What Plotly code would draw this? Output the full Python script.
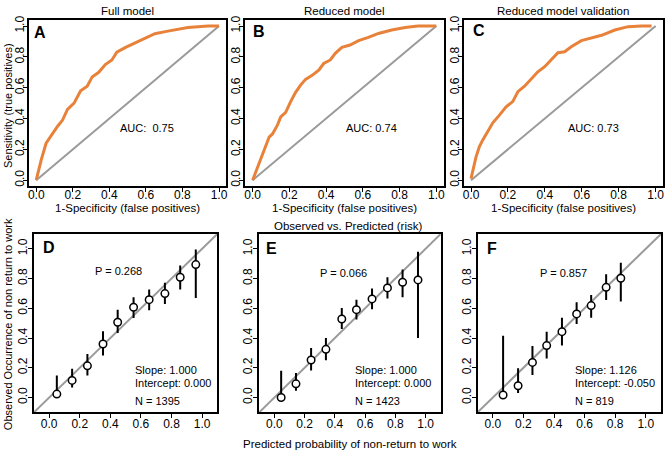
import plotly.graph_objects as go

# ---------------- data ----------------
tick_vals = [0.0, 0.2, 0.4, 0.6, 0.8, 1.0]
tick_labels = ["0.0", "0.2", "0.4", "0.6", "0.8", "1.0"]

# ROC curves (1-specificity, sensitivity)
roc_a_fpr = [0, 0.014, 0.027, 0.054, 0.081, 0.117, 0.144, 0.171, 0.207, 0.243, 0.279, 0.306, 0.342,
             0.378, 0.414, 0.441, 0.486, 0.54, 0.595, 0.649, 0.72, 0.83, 0.94, 1.0]
roc_a_tpr = [0, 0.07, 0.13, 0.24, 0.29, 0.35, 0.39, 0.46, 0.50, 0.58, 0.61, 0.67, 0.70,
             0.75, 0.78, 0.83, 0.86, 0.89, 0.92, 0.95, 0.967, 0.99, 1.0, 1.0]
roc_b_fpr = [0, 0.014, 0.027, 0.04, 0.054, 0.072, 0.09, 0.108, 0.135, 0.153, 0.18, 0.207, 0.234,
             0.261, 0.288, 0.324, 0.36, 0.387, 0.423, 0.45, 0.486, 0.53, 0.577, 0.63, 0.685,
             0.757, 0.83, 0.9, 0.973, 1.0]
roc_b_tpr = [0, 0.043, 0.087, 0.12, 0.16, 0.216, 0.28, 0.30, 0.357, 0.41, 0.44, 0.51, 0.57,
             0.617, 0.654, 0.68, 0.714, 0.757, 0.78, 0.823, 0.862, 0.877, 0.905, 0.926, 0.952,
             0.974, 0.991, 1.0, 1.0, 1.0]
roc_c_fpr = [0, 0.015, 0.027, 0.045, 0.063, 0.09, 0.118, 0.154, 0.19, 0.226, 0.254, 0.29, 0.326,
             0.362, 0.399, 0.435, 0.471, 0.507, 0.543, 0.598, 0.652, 0.707, 0.779, 0.851, 0.924,
             0.978]
roc_c_tpr = [0.01, 0.087, 0.15, 0.216, 0.26, 0.314, 0.372, 0.422, 0.476, 0.51, 0.574, 0.61, 0.66,
             0.703, 0.736, 0.78, 0.827, 0.833, 0.866, 0.905, 0.92, 0.94, 0.974, 0.996, 1.0, 1.0]

auc_labels = ["AUC:  0.75", "AUC: 0.74", "AUC: 0.73"]
roc_titles = ["Full model", "Reduced model", "Reduced model validation"]

# Calibration (predicted, observed, CI low, CI high)
cal_d_pred = [0.05, 0.15, 0.25, 0.352, 0.448, 0.552, 0.654, 0.757, 0.857, 0.959]
cal_d_obs = [0.023, 0.115, 0.213, 0.36, 0.506, 0.607, 0.658, 0.699, 0.809, 0.894]
cal_d_lo = [0.01, 0.067, 0.148, 0.283, 0.434, 0.535, 0.587, 0.629, 0.726, 0.67]
cal_d_hi = [0.148, 0.193, 0.292, 0.445, 0.591, 0.674, 0.726, 0.771, 0.888, 0.996]

cal_e_pred = [0.045, 0.143, 0.243, 0.341, 0.446, 0.543, 0.646, 0.748, 0.848, 0.95]
cal_e_obs = [0.0, 0.092, 0.252, 0.324, 0.528, 0.591, 0.663, 0.737, 0.775, 0.791]
cal_e_lo = [0.0, 0.045, 0.182, 0.25, 0.461, 0.524, 0.593, 0.665, 0.674, 0.40]
cal_e_hi = [0.18, 0.164, 0.333, 0.40, 0.602, 0.658, 0.733, 0.809, 0.861, 0.98]

cal_f_pred = [0.067, 0.165, 0.259, 0.352, 0.452, 0.548, 0.643, 0.741, 0.837]
cal_f_obs = [0.017, 0.079, 0.236, 0.349, 0.443, 0.562, 0.618, 0.741, 0.802]
cal_f_lo = [0.017, 0.03, 0.151, 0.263, 0.349, 0.494, 0.537, 0.656, 0.645]
cal_f_hi = [0.416, 0.196, 0.346, 0.443, 0.537, 0.64, 0.689, 0.829, 0.907]

p_labels = ["P = 0.268", "P = 0.066", "P = 0.857"]
slope_labels = ["Slope: 1.000", "Slope: 1.000", "Slope: 1.126"]
intercept_labels = ["Intercept: 0.000", "Intercept: 0.000", "Intercept: -0.050"]
n_labels = ["N = 1395", "N = 1423", "N = 819"]
panel_letters = ["A", "B", "C", "D", "E", "F"]

# ---------------- layout geometry (pixels) ----------------
W, H = 669, 453
FONT = "Liberation Sans, Arial, sans-serif"
ORANGE = "#E8823A"
GREY = "#9a9a9a"

def px(x):
    return x / W

def py(y):
    return 1 - y / H

top_x = [(28, 226), (245, 444), (464, 664)]
top_y = (16, 184)
bot_x = [(33, 217), (259, 441), (478, 662)]
bot_y = (232, 412)

fig = go.Figure()

roc_data = [(roc_a_fpr, roc_a_tpr), (roc_b_fpr, roc_b_tpr), (roc_c_fpr, roc_c_tpr)]
cal_data = [(cal_d_pred, cal_d_obs, cal_d_lo, cal_d_hi),
            (cal_e_pred, cal_e_obs, cal_e_lo, cal_e_hi),
            (cal_f_pred, cal_f_obs, cal_f_lo, cal_f_hi)]

axis_common = dict(showline=True, linecolor="black", linewidth=2, mirror=True,
                   ticks="outside", ticklen=4, tickwidth=1.3, tickcolor="black",
                   showgrid=False, zeroline=False, tickvals=tick_vals, ticktext=tick_labels,
                   tickfont=dict(family=FONT, size=12, color="black"), fixedrange=True)

layout_axes = {}
for i in range(6):
    n = i + 1
    xs = "" if n == 1 else str(n)
    if i < 3:
        x0, x1 = top_x[i]
        y0, y1 = top_y
        rng = [-0.04, 1.04]
        xstand, ystand = -8, -6
    else:
        x0, x1 = bot_x[i - 3]
        y0, y1 = bot_y
        rng = [-0.1, 1.1]
        xstand, ystand = -5, -4
    layout_axes["xaxis" + xs] = dict(axis_common, domain=[px(x0), px(x1)], range=rng,
                                     anchor="y" + xs, ticklabelstandoff=xstand)
    layout_axes["yaxis" + xs] = dict(axis_common, domain=[py(y1), py(y0)], range=rng,
                                     anchor="x" + xs, tickangle=-90, ticklabelstandoff=ystand)

# ROC traces
for i, (fpr, tpr) in enumerate(roc_data):
    n = i + 1
    xs = "" if n == 1 else str(n)
    fig.add_trace(go.Scatter(x=[0, 1], y=[0, 1], mode="lines",
                             line=dict(color=GREY, width=2), xaxis="x" + xs, yaxis="y" + xs,
                             hoverinfo="skip"))
    fig.add_trace(go.Scatter(x=fpr, y=tpr, mode="lines",
                             line=dict(color=ORANGE, width=3), xaxis="x" + xs, yaxis="y" + xs))

# Calibration traces
for i, (pred, obs, lo, hi) in enumerate(cal_data):
    n = i + 4
    xs = str(n)
    fig.add_trace(go.Scatter(x=[-0.1, 1.1], y=[-0.1, 1.1], mode="lines",
                             line=dict(color=GREY, width=2), xaxis="x" + xs, yaxis="y" + xs,
                             hoverinfo="skip"))
    fig.add_trace(go.Scatter(
        x=pred, y=obs, mode="markers",
        marker=dict(symbol="circle", size=7.5, color="white", line=dict(color="black", width=1.5)),
        error_y=dict(type="data", symmetric=False,
                     array=[h - o for h, o in zip(hi, obs)],
                     arrayminus=[o - l for o, l in zip(obs, lo)],
                     color="black", thickness=2, width=0),
        xaxis="x" + xs, yaxis="y" + xs))

ann = []
tfont = dict(family=FONT, size=11.5, color="black")
sfont = dict(family=FONT, size=11, color="black")
# titles
for i, t in enumerate(roc_titles):
    cx = (top_x[i][0] + top_x[i][1]) / 2
    ann.append(dict(text=t, x=px(cx), y=py(7), xref="paper", yref="paper",
                    showarrow=False, font=tfont, xanchor="center", yanchor="middle"))
    ann.append(dict(text="1-Specificity (false positives)", x=px(cx), y=py(206), xref="paper",
                    yref="paper", showarrow=False, font=tfont, xanchor="center", yanchor="middle"))
auc_pos = [(146, 125), (372, 125), (594, 125)]
for (x, y), t in zip(auc_pos, auc_labels):
    ann.append(dict(text=t, x=px(x), y=py(y), xref="paper", yref="paper", showarrow=False,
                    font=sfont, xanchor="center", yanchor="middle"))

ann.append(dict(text="Observed vs. Predicted (risk)", x=px(348), y=py(224), xref="paper",
                yref="paper", showarrow=False, font=tfont, xanchor="center", yanchor="middle"))
ann.append(dict(text="Predicted probability of non-return to work", x=px(350), y=py(444),
                xref="paper", yref="paper", showarrow=False, font=tfont, xanchor="center",
                yanchor="middle"))
ann.append(dict(text="Sensitivity (true positives)", x=px(7), y=py(102), xref="paper",
                yref="paper", showarrow=False, font=sfont, textangle=-90, xanchor="center",
                yanchor="middle"))
ann.append(dict(text="Observed Occurrence of non return to work", x=px(7), y=py(323),
                xref="paper", yref="paper", showarrow=False, font=sfont, textangle=-90,
                xanchor="center", yanchor="middle"))

letter_pos = [(31, 29), (251, 28), (471, 27), (40, 246), (264, 247), (485, 247)]
for (x, y), t in zip(letter_pos, panel_letters):
    ann.append(dict(text="<b>" + t + "</b>", x=px(x), y=py(y), xref="paper", yref="paper",
                    showarrow=False, font=dict(family=FONT, size=16, color="black"),
                    xanchor="left", yanchor="middle"))

p_pos = [(118, 269), (344, 271), (564, 271)]
slope_x = [132, 353, 574]
for i in range(3):
    ann.append(dict(text=p_labels[i], x=px(p_pos[i][0]), y=py(p_pos[i][1]), xref="paper",
                    yref="paper", showarrow=False, font=sfont, xanchor="center", yanchor="middle"))
    for t, y in [(slope_labels[i], 369), (intercept_labels[i], 382), (n_labels[i], 401)]:
        ann.append(dict(text=t, x=px(slope_x[i]), y=py(y), xref="paper", yref="paper",
                        showarrow=False, font=sfont, xanchor="left", yanchor="middle"))

fig.update_layout(width=W, height=H, margin=dict(l=0, r=0, t=0, b=0), showlegend=False,
                  plot_bgcolor="white", paper_bgcolor="white", annotations=ann, **layout_axes)

fig.write_html("out.html", config={"displayModeBar": False},
               post_script="document.body.style.margin='0';document.body.style.overflow='hidden';")
